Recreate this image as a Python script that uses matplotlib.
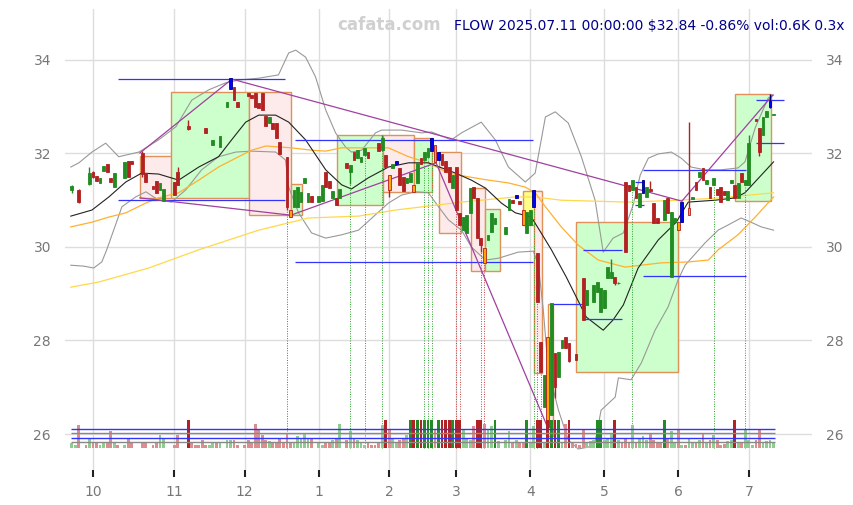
import numpy as np
import pandas as pd
import matplotlib
matplotlib.use("Agg")
import matplotlib.pyplot as plt
from matplotlib.patches import Rectangle

N = None

# trading days (US holidays removed)
holidays = ["2024-11-28", "2024-12-25", "2025-01-01", "2025-01-09", "2025-01-20",
            "2025-02-17", "2025-04-18", "2025-05-26", "2025-06-19", "2025-07-04"]
dates = pd.bdate_range("2024-09-23", "2025-07-11")
dates = dates[~dates.isin(pd.to_datetime(holidays))]

# daily OHLC (None = no trade)
opens = [31.22, 31.19, 31.22, N, 31.31, 31.35, 31.60, 31.52, 31.37, 31.63,
         31.77, 31.48, 31.28, 31.61, N, 31.48, 31.84, 31.84, N, N,
         32.00, 31.58, N, 31.30, 31.41, 31.22, 30.98, N, N, 31.39,
         31.60, N, N, 32.59, 32.56, 32.56, 32.56, 32.56, 32.55, 32.29,
         32.18, 32.31, 32.14, N, 33.00, 33.38, 33.42, 33.10, N, 33.26,
         33.30, 33.25, 33.30, 33.08, 33.30, 32.80, 32.65, 32.65, 32.65, 32.25,
         31.96, 31.93, 30.79, 30.86, 30.86, 30.96, 31.37, 30.96, 31.09, N,
         30.96, 30.98, 31.60, 31.41, 31.05, 31.05, 31.05, N, 31.80, 31.60,
         32.03, 31.90, 31.82, 31.97, 32.03, 32.11, 32.11, 32.22, 32.07, 31.97,
         31.54, 31.69, 31.77, 31.69, 31.50, 31.37, 31.39, 31.33, 31.37, 31.90,
         31.86, 31.93, 32.05, 32.18, 31.86, 31.99, 31.84, 31.71, 31.26, 31.71,
         30.73, 30.36, 30.30, 30.73, 31.28, 31.05, 30.20, 29.98, 30.15, 30.32,
         30.50, 30.60, N, 30.28, 30.79, 31.00, 31.05, 30.98, 30.79, 30.30,
         30.47, 30.86, 29.87, 27.97, 26.58, 28.07, 26.40, 27.73, 27.22, 27.84,
         28.07, 27.95, 27.71, 27.71, 27.66, 29.34, 28.76, 28.94, 28.82, 29.04,
         28.61, 28.70, 29.34, 29.34, 29.36, 29.22, 29.26, 31.39, 31.33, 31.22,
         31.28, 30.86, 31.15, 31.07, 31.24, 30.94, 30.62, 30.61, 30.58, 31.05,
         29.36, 30.53, 30.53, 30.53, 30.91, 30.68, 31.03, 31.39, 31.50, 31.69,
         31.35, 31.28, 31.33, 31.24, 31.28, 31.20, 31.00, 31.37, 31.33, 31.05,
         31.58, 31.33, 31.33, 32.30, 32.74, 32.55, 32.40, 32.78, 33.00, 32.82]
highs = [31.32, 31.20, 31.25, N, 31.31, 31.70, 31.62, 31.52, 31.48, 31.73,
         31.77, 31.48, 31.58, 31.61, N, 31.82, 31.84, 31.84, N, N,
         32.05, 31.58, N, 31.30, 31.41, 31.37, 31.24, N, N, 31.39,
         31.72, N, N, 32.72, 32.56, 32.56, 32.56, 32.56, 32.55, 32.30,
         32.29, 32.31, 32.37, N, 33.10, 33.62, 33.42, 33.10, N, 33.26,
         33.30, 33.25, 33.30, 33.08, 33.30, 32.80, 32.78, 32.65, 32.65, 32.25,
         31.96, 31.93, 30.79, 31.22, 31.28, 31.18, 31.48, 31.15, 31.09, N,
         31.09, 31.33, 31.60, 31.41, 31.20, 31.05, 31.24, N, 31.80, 31.75,
         32.03, 32.07, 31.93, 32.12, 32.03, 32.11, 32.11, 32.22, 32.40, 31.97,
         31.54, 31.78, 31.84, 31.69, 31.50, 31.48, 31.58, 31.33, 31.80, 31.90,
         32.03, 32.12, 32.33, 32.18, 32.03, 31.99, 31.84, 31.71, 31.54, 31.71,
         30.73, 30.64, 30.68, 31.26, 31.28, 31.05, 30.20, 29.98, 30.25, 30.73,
         30.62, 30.61, N, 30.43, 31.03, 31.00, 31.11, 30.98, 30.79, 30.75,
         30.79, 31.22, 29.87, 27.97, 27.26, 28.07, 28.80, 27.73, 27.75, 28.00,
         28.07, 27.95, 27.71, 27.71, 27.66, 29.34, 29.08, 28.95, 29.19, 29.25,
         29.12, 29.08, 29.57, 29.75, 29.36, 29.25, 29.26, 31.39, 31.33, 31.43,
         31.28, 31.15, 31.43, 31.28, 31.42, 30.94, 30.62, 30.61, 31.00, 31.05,
         30.75, 30.62, 30.53, 30.96, 30.91, 32.67, 31.07, 31.39, 31.60, 31.69,
         31.43, 31.28, 31.48, 31.24, 31.28, 31.20, 31.20, 31.43, 31.33, 31.37,
         31.58, 31.43, 32.40, 32.31, 32.74, 32.55, 32.78, 32.90, 33.27, 32.84]
lows = [31.15, 31.19, 30.95, N, 31.30, 31.33, 31.48, 31.41, 31.37, 31.63,
        31.60, 31.39, 31.28, 31.60, N, 31.48, 31.50, 31.77, N, N,
        31.50, 31.39, N, 31.24, 31.15, 31.22, 30.98, N, N, 31.11,
        31.33, N, N, 32.50, 32.55, 32.55, 32.55, 32.55, 32.44, 32.29,
        32.18, 32.30, 32.14, N, 33.00, 33.38, 33.14, 33.00, N, 33.25,
        33.23, 33.19, 33.00, 32.97, 32.93, 32.59, 32.65, 32.52, 32.33, 31.99,
        31.95, 30.80, 30.64, 30.86, 30.86, 30.96, 31.37, 30.96, 30.96, N,
        30.96, 30.98, 31.28, 31.26, 31.05, 30.90, 31.05, N, 31.69, 31.35,
        31.86, 31.90, 31.82, 31.97, 31.90, 32.10, 32.10, 32.05, 32.07, 31.71,
        31.07, 31.69, 31.77, 31.33, 31.20, 31.37, 31.39, 31.18, 31.37, 31.78,
        31.86, 31.93, 32.05, 31.82, 31.86, 31.75, 31.60, 31.39, 31.26, 30.79,
        30.47, 30.36, 30.30, 30.73, 31.05, 30.20, 29.90, 29.66, 30.15, 30.32,
        30.50, 30.60, N, 30.28, 30.79, 30.94, 31.05, 30.92, 30.47, 30.30,
        30.47, 30.86, 28.82, 27.33, 26.58, 26.15, 26.40, 26.77, 27.22, 27.84,
        27.84, 27.54, 27.70, 27.58, 27.65, 28.44, 28.76, 28.94, 28.82, 29.04,
        28.61, 28.70, 29.34, 29.34, 29.18, 29.20, 29.25, 29.89, 31.20, 31.22,
        31.05, 30.86, 31.15, 31.07, 31.20, 30.51, 30.51, 30.60, 30.58, 30.73,
        29.36, 30.53, 30.36, 30.53, 30.90, 30.68, 31.03, 31.22, 31.50, 31.43,
        31.35, 31.05, 31.33, 31.11, 30.96, 31.11, 31.00, 31.37, 31.05, 31.05,
        31.39, 31.33, 31.33, 32.30, 32.70, 31.95, 32.40, 32.78, 32.98, 32.82]
closes = [31.30, 31.20, 30.96, N, 31.30, 31.58, 31.50, 31.41, 31.48, 31.73,
          31.60, 31.39, 31.58, 31.60, N, 31.82, 31.50, 31.77, N, N,
          31.56, 31.39, N, 31.24, 31.15, 31.37, 31.24, N, N, 31.11,
          31.33, N, N, 32.52, 32.55, 32.55, 32.55, 32.55, 32.44, 32.30,
          32.29, 32.30, 32.37, N, 33.10, 33.62, 33.14, 33.00, N, 33.25,
          33.23, 33.19, 33.00, 32.97, 32.93, 32.59, 32.78, 32.52, 32.33, 31.99,
          31.95, 30.86, 30.64, 31.22, 31.28, 31.18, 31.48, 31.15, 30.96, N,
          31.09, 31.33, 31.28, 31.26, 31.20, 30.90, 31.24, N, 31.69, 31.75,
          31.86, 32.07, 31.93, 32.12, 31.90, 32.10, 32.10, 32.05, 32.33, 31.71,
          31.22, 31.78, 31.84, 31.33, 31.20, 31.48, 31.58, 31.18, 31.80, 31.78,
          32.03, 32.12, 32.33, 31.82, 32.03, 31.75, 31.60, 31.39, 31.54, 30.79,
          30.47, 30.64, 30.68, 31.26, 31.05, 30.20, 30.04, 29.66, 30.25, 30.73,
          30.62, 30.61, N, 30.43, 31.03, 30.94, 31.11, 30.92, 30.47, 30.75,
          30.79, 31.22, 28.82, 27.33, 27.26, 26.15, 28.80, 27.00, 27.75, 28.00,
          27.84, 27.56, 27.70, 27.58, 27.65, 28.44, 29.08, 28.95, 29.19, 29.25,
          29.12, 29.08, 29.57, 29.47, 29.23, 29.24, 29.25, 29.89, 31.20, 31.43,
          31.05, 31.15, 31.43, 31.28, 31.20, 30.51, 30.51, 30.60, 31.00, 30.73,
          30.75, 30.62, 30.36, 30.96, 30.90, 30.83, 31.07, 31.22, 31.60, 31.43,
          31.43, 31.05, 31.48, 31.11, 30.96, 31.11, 31.20, 31.43, 31.05, 31.37,
          31.39, 31.43, 32.22, 32.31, 32.70, 32.03, 32.78, 32.90, 33.13, 32.84]
volumes = [600, 370, 2570, N, 370, 1160, 680, 680, 370, 570,
           570, 1890, 570, 370, N, 370, 1050, 570, N, N,
           570, 570, N, 370, 570, 1430, 1050, N, N, 370,
           1430, N, N, 4000, 570, 370, 370, 870, 370, 370,
           570, 570, 570, N, 870, 870, 870, 370, N, 370,
           870, 680, 2750, 2000, 1430, 870, 760, 570, 570, 980,
           570, 1620, 570, 570, 1320, 1050, 1730, 1050, 1050, N,
           600, 370, 600, 600, 870, 1020, 2750, N, 870, 1890,
           1160, 870, 680, 370, 570, 370, 370, 570, 2570, 4000,
           2070, 1050, 600, 870, 1050, 1430, 4000, 4000, 4000, 4000,
           4000, 4000, 4000, 2000, 4000, 4000, 4000, 4000, 4000, 4000,
           4000, 2000, 1050, 870, 2450, 4000, 4000, 2750, 2000, 2450,
           4000, 830, N, 940, 1890, 570, 870, 680, 570, 4000,
           570, 2450, 4000, 4000, 600, 4000, 4000, 4000, 4000, 680,
           2750, 4000, 570, 490, 370, 2180, 600, 830, 870, 4000,
           4000, 870, 1160, 1730, 4000, 870, 570, 1160, 680, 2570,
           570, 1050, 1320, 870, 1700, 870, 680, 570, 4000, 1160,
           1890, 570, 2070, 370, 370, 1050, 600, 600, 940, 1730,
           600, 870, 1430, 940, 370, 490, 760, 870, 4000, 680,
           600, 2000, 940, 370, 940, 2000, 600, 830, 870, 600]

blue_days = [45, 92, 102, 104, 126, 131, 162, 173, 198]
orange_days = [62, 90, 97, 103, 117, 128, 135, 172, 175]

# indicator lines (day index, price)
ma20_x = [-0.3, 5.7, 10.5, 15.3, 19.8, 24.6, 30.3, 36.0, 41.6, 45.3, 49.3, 53.0, 57.8, 61.5,
          66.3, 72.0, 76.5, 79.3, 84.1, 89.8, 95.5, 101.1, 108.8, 113.3, 117.3, 121.8, 125.8,
          130.3, 133.1, 136.0, 140.2, 145.9, 150.7, 153.5, 156.4, 160.6, 166.3, 171.4, 174.8,
          182.4, 188.1, 190.9, 199.0]
ma20_y = [30.66, 30.79, 31.07, 31.39, 31.58, 31.56, 31.43, 31.71, 31.93, 32.29, 32.67, 32.82,
          32.82, 32.67, 32.29, 31.65, 31.33, 31.24, 31.48, 31.71, 31.80, 31.80, 31.58, 31.43,
          31.26, 30.94, 30.73, 30.64, 30.30, 29.94, 29.36, 28.50, 28.22, 28.44, 28.76, 29.55,
          30.15, 30.53, 30.96, 31.00, 31.05, 31.16, 31.82]
bbu_x = [-0.3, 2.0, 5.7, 9.6, 13.3, 19.0, 24.6, 29.5, 34.0, 38.8, 43.6, 47.3, 53.0, 58.6, 61.5,
         63.5, 66.3, 69.1, 72.0, 74.8, 77.6, 79.3, 82.2, 86.1, 87.8, 93.5, 99.2, 102.0, 107.6,
         110.5, 116.1, 120.1, 123.8, 128.6, 131.4, 134.3, 137.1, 140.8, 144.5, 148.4, 150.7,
         153.5, 156.4, 159.2, 161.2, 163.5, 166.3, 170.0, 172.8, 175.6, 179.6, 184.1, 188.9,
         190.9, 193.8, 197.5, 199.0]
bbu_y = [31.71, 31.80, 32.03, 32.22, 31.93, 32.03, 32.29, 32.57, 33.14, 33.36, 33.51, 33.57,
         33.61, 33.68, 34.15, 34.21, 34.06, 33.64, 32.93, 32.44, 32.14, 32.03, 32.07, 32.44,
         32.50, 32.50, 32.44, 32.46, 32.29, 32.44, 32.67, 32.29, 31.71, 31.39, 31.58, 32.78,
         32.89, 32.65, 31.93, 31.00, 29.89, 30.19, 30.30, 30.90, 31.54, 31.90, 31.99, 32.03,
         31.90, 31.71, 31.65, 31.65, 31.69, 31.82, 32.55, 33.19, 33.25]
bbl_x = [-0.3, 3.4, 6.2, 8.5, 9.9, 14.2, 18.1, 21.0, 24.6, 28.3, 32.3, 36.8, 41.6, 46.5, 51.0,
         57.8, 60.6, 61.5, 64.3, 68.0, 72.0, 76.5, 81.3, 89.8, 93.5, 97.5, 101.1, 104.0, 106.8,
         110.5, 113.3, 117.3, 121.0, 126.6, 130.9, 132.3, 133.7, 135.1, 138.0, 140.8, 143.6,
         146.5, 148.4, 150.1, 154.1, 155.0, 158.6, 161.5, 165.4, 169.1, 171.9, 173.9, 179.6,
         183.3, 186.1, 189.8, 192.6, 195.5, 199.0]
bbl_y = [29.61, 29.59, 29.55, 29.68, 29.94, 30.86, 31.07, 31.18, 31.00, 30.96, 31.22, 31.65,
         31.93, 32.03, 32.05, 32.03, 31.86, 31.28, 30.73, 30.30, 30.19, 30.26, 30.36, 30.94,
         31.11, 31.18, 31.16, 30.86, 30.58, 30.36, 30.00, 29.72, 29.76, 29.89, 29.91, 29.61,
         28.65, 27.37, 26.51, 25.87, 25.68, 25.72, 25.83, 26.51, 26.79, 27.20, 27.16, 27.52,
         28.22, 28.72, 29.29, 29.61, 30.09, 30.36, 30.47, 30.62, 30.53, 30.43, 30.36]
ma50_x = [-0.3, 5.7, 10.5, 15.3, 21.0, 24.6, 30.3, 36.0, 41.6, 47.3, 51.0, 55.0, 58.6, 62.3,
          68.0, 72.0, 76.5, 82.2, 89.8, 95.5, 101.1, 106.8, 112.5, 118.1, 123.8, 128.6, 131.4,
          134.3, 138.8, 143.6, 149.3, 156.9, 167.1, 174.8, 180.5, 183.3, 188.9, 193.8, 199.0]
ma50_y = [30.43, 30.53, 30.64, 30.73, 30.94, 31.05, 31.16, 31.43, 31.71, 31.93, 32.07, 32.16,
          32.14, 32.12, 32.07, 32.05, 32.12, 32.12, 32.12, 31.93, 31.80, 31.58, 31.50, 31.43,
          31.37, 31.28, 31.16, 30.86, 30.43, 30.04, 29.72, 29.57, 29.66, 29.68, 29.72, 29.94,
          30.26, 30.64, 31.07]
ma200_x = [-0.3, 7.6, 21.8, 36.0, 53.0, 67.1, 81.3, 91.8, 110.5, 125.8, 131.4, 138.8, 157.8,
           172.0, 184.1, 199.0]
ma200_y = [29.14, 29.25, 29.55, 29.94, 30.36, 30.62, 30.66, 30.79, 30.96, 31.07, 31.07, 31.00,
           30.96, 31.00, 31.05, 31.16]

# range boxes
box_x0 = [19.3, 28.1, 50.2, 62.1, 75.2, 88.2, 97.0, 104.1, 113.2, 117.1, 127.9, 131.0, 135.0, 142.9, 188.0]
box_x1 = [28.4, 50.2, 62.1, 65.3, 88.2, 97.0, 102.1, 110.3, 117.1, 121.4, 133.0, 133.3, 136.4, 171.9, 198.2]
box_lo = [31.05, 31.05, 30.68, 30.68, 30.90, 31.18, 31.18, 30.30, 29.49, 29.49, 30.47, 27.30, 25.95, 27.33, 30.98]
box_hi = [31.95, 33.32, 33.32, 31.35, 32.40, 32.40, 32.33, 32.03, 31.26, 30.81, 31.20, 31.20, 28.78, 30.53, 33.27]
box_kind = ["dn", "up", "dn", "up", "up", "dn", "up", "dn", "dn", "up", "flat", "dn", "dn", "up", "up"]

# trend lines
tl_x0 = [19.3, 45.4, 19.3, 62.1, 103.3, 173.0]
tl_y0 = [32.01, 33.59, 31.05, 30.68, 31.80, 30.98]
tl_x1 = [45.4, 173.0, 62.1, 103.3, 135.0, 198.8]
tl_y1 = [33.59, 30.98, 30.68, 31.80, 26.13, 33.25]

# support / resistance levels
lvl_x0 = [13.1, 13.1, 63.3, 63.3, 136.4, 144.9, 144.9, 161.9, 161.9, 193.9, 193.9, 159.8, 159.8]
lvl_x1 = [60.4, 60.4, 130.7, 130.7, 144.9, 156.0, 156.0, 191.1, 191.1, 201.9, 201.9, 162.4, 162.4]
lvl_y = [33.59, 31.00, 32.29, 29.68, 28.78, 29.94, 28.46, 31.65, 29.38, 33.14, 32.22, 31.39, 30.90]

sig_up = [79, 83, 88, 100, 101, 102, 131, 159, 182, 191]
sig_dn = [61, 109, 110, 116, 117, 132, 133]

vol_levels = [2150, 1700, 1130, 680]
vol_level_cols = ["#3333ff", "#888888", "#3333ff", "#888888"]

GREEN = "#228b22"
RED = "#b22222"
VOL_CAP = 3160

x = np.arange(len(dates))
o = np.array(opens, dtype=float)
h = np.array(highs, dtype=float)
l = np.array(lows, dtype=float)
c = np.array(closes, dtype=float)
v = np.array(volumes, dtype=float)
ok = ~np.isnan(o)
up = c >= o
# days that traded at a single price leave no visible candle
drawn = ok & (np.nan_to_num(h - l) > 0.015)

fig = plt.figure(figsize=(8.54, 5.05), dpi=100)
ax = fig.add_axes([0.0761, 0.0693, 0.8747, 0.9129])
ax.set_xlim(-1.94, 209.9)
ax.set_ylim(25.23, 35.09)
for s in ax.spines.values():
    s.set_visible(False)
ax.grid(True, color="#dddddd", linewidth=1.0)
ax.set_axisbelow(True)

# boxes
fills = {"up": "#ccffcc", "dn": "#fdeaea", "flat": "#ffff88"}
for x0, x1, lo, hi, k in zip(box_x0, box_x1, box_lo, box_hi, box_kind):
    ax.add_patch(Rectangle((x0, lo), x1 - x0, hi - lo, facecolor=fills[k],
                           edgecolor="#e0915a", linewidth=1.0, zorder=1))

# indicators
ax.plot(bbu_x, bbu_y, color="#999999", lw=0.8, zorder=2)
ax.plot(bbl_x, bbl_y, color="#999999", lw=0.8, zorder=2)
ax.plot(ma200_x, ma200_y, color="#ffd84a", lw=0.9, zorder=2)
ax.plot(ma50_x, ma50_y, color="#ffb030", lw=0.9, zorder=2)
ax.plot(ma20_x, ma20_y, color="#222222", lw=0.8, zorder=2)

# levels and trend lines
ax.hlines(lvl_y, lvl_x0, lvl_x1, colors="#3333ff", lw=0.9, zorder=3)
for a, b, p, q in zip(tl_x0, tl_x1, tl_y0, tl_y1):
    ax.plot([a, b], [p, q], color="#a040a0", lw=0.9, zorder=3)

# signal markers
ax.vlines(sig_up, 25.70, l[sig_up], colors="#2ca02c", lw=0.7, linestyles=(0, (1, 1.5)), zorder=2)
ax.vlines(sig_dn, 25.70, l[sig_dn], colors="#c04040", lw=0.7, linestyles=(0, (1, 1.5)), zorder=2)

# candles
face = np.where(up, GREEN, RED).astype(object)
edge = face.copy()
for i in blue_days:
    face[i] = "#0000ff"
    edge[i] = "#000080"
for i in orange_days:
    face[i] = "#ffa500"
    edge[i] = RED
ax.vlines(x[drawn], l[drawn], h[drawn], colors=list(edge[drawn]), lw=1.0, zorder=4)
ax.bar(x[drawn], (c - o)[drawn], bottom=o[drawn], width=0.8, color=list(face[drawn]),
       edgecolor=list(edge[drawn]), linewidth=0.6, zorder=5)

# volume
ax2 = ax.twinx()
ax2.set_ylim(-2486, 49607)
for s in ax2.spines.values():
    s.set_visible(False)
ax2.set_yticks([])
vok = ~np.isnan(v)
big = v >= VOL_CAP
vcol = np.where(up, np.where(big, GREEN, "#8fcc8f"), np.where(big, RED, "#dc8e8e"))
ax2.bar(x[vok], np.minimum(v, VOL_CAP)[vok], width=0.8, color=list(vcol[vok]), linewidth=0)
ax2.hlines(vol_levels, -0.3, 199.5, colors=vol_level_cols, lw=1.0)

# axis ticks
months = pd.Series(dates.month)
first = months.ne(months.shift()).to_numpy()
first[0] = False
ax.set_xticks(x[first])
ax.set_xticklabels([str(m) for m in months[first]])
ax.set_yticks([26, 28, 30, 32, 34])
ax.set_yticklabels(["26", "28", "30", "32", "34"])
ax.tick_params(axis="x", length=5, width=1.5, color="#222222", pad=6,
               labelcolor="#777777", labelsize=10)
ax.tick_params(axis="y", length=0, pad=10, labelcolor="#777777", labelsize=10,
               labelleft=True, labelright=True)

fig.text(389 / 854, 1 - 25 / 505, "cafata.com", color="#d0d0d0", fontsize=12,
         fontweight="bold", ha="center", va="center")
fig.text(845 / 854, 1 - 26 / 505, r"FLOW 2025.07.11 00:00:00 \$32.84 -0.86% vol:0.6K 0.3x",
         color="#00008b", fontsize=10, ha="right", va="center")

fig.savefig("out.png", dpi=100)
